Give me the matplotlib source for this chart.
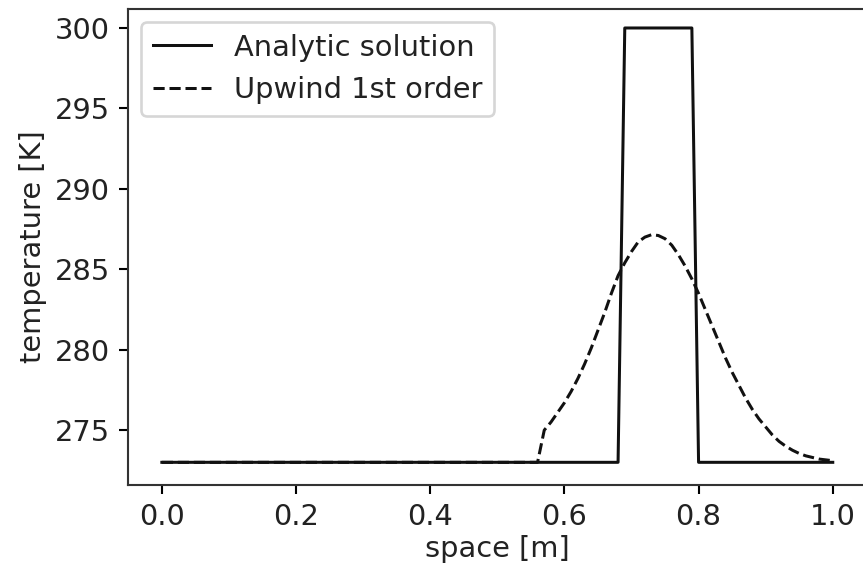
import numpy as np
import matplotlib
matplotlib.use("Agg")
import matplotlib.pyplot as plt

# Spatial grid (0 .. 1 m, step 0.01)
x = np.round(np.arange(0, 101) * 0.01, 2)

# Analytic solution: 273 K baseline, 300 K plateau
analytic_low = 273.0
analytic_high = 300.0
plateau_start = 0.69
plateau_end = 0.79
analytic = np.where((x >= plateau_start - 1e-9) & (x <= plateau_end + 1e-9),
                    analytic_high, analytic_low)

# Upwind 1st order: baseline 273 K up to x = 0.56, then values
upwind_tail = [
    273.0,                                              # 0.56
    275.0, 275.5, 276.1, 276.7, 277.4, 278.2, 279.1,    # 0.57 - 0.63
    280.1, 281.2, 282.3, 283.5, 284.6, 285.4, 286.1,    # 0.64 - 0.70
    286.7, 287.0, 287.15, 287.1, 286.9, 286.5, 285.9,   # 0.71 - 0.77
    285.2, 284.4, 283.5, 282.5, 281.5, 280.5, 279.5,    # 0.78 - 0.84
    278.6, 277.8, 277.0, 276.3, 275.7, 275.2, 274.7,    # 0.85 - 0.91
    274.3, 274.0, 273.75, 273.55, 273.4, 273.3, 273.2,  # 0.92 - 0.98
    273.15, 273.1,                                      # 0.99 - 1.00
]
upwind_head = [273.0] * 56                              # 0.00 - 0.55
upwind = np.array(upwind_head + upwind_tail)

x_ticks = [0.0, 0.2, 0.4, 0.6, 0.8, 1.0]
y_ticks = [275, 280, 285, 290, 295, 300]

plt.rcParams['font.size'] = 11
plt.rcParams['text.color'] = '#222222'
plt.rcParams['axes.labelcolor'] = '#222222'
plt.rcParams['xtick.labelcolor'] = '#222222'
plt.rcParams['ytick.labelcolor'] = '#222222'
plt.rcParams['axes.edgecolor'] = '#333333'

W, H, DPI = 863, 567, 189
fig = plt.figure(figsize=(W / DPI, H / DPI), dpi=DPI)
ax = fig.add_axes([128.3 / W, (H - 485) / H, 738 / W, 476 / H])

ax.plot(x, analytic, '-', color='#111111', lw=1.15, label='Analytic solution')
ax.plot(x, upwind, '--', color='#111111', lw=1.15, label='Upwind 1st order')

ax.set_xlim(-0.05, 1.05)
ax.set_ylim(271.59, 301.18)
ax.set_xticks(x_ticks)
ax.set_yticks(y_ticks)
ax.set_xlabel('space [m]', labelpad=1.5)
ax.set_ylabel('temperature [K]', labelpad=3)
ax.legend(loc='upper left', borderaxespad=0.45)

fig.savefig('out.png', dpi=DPI)
